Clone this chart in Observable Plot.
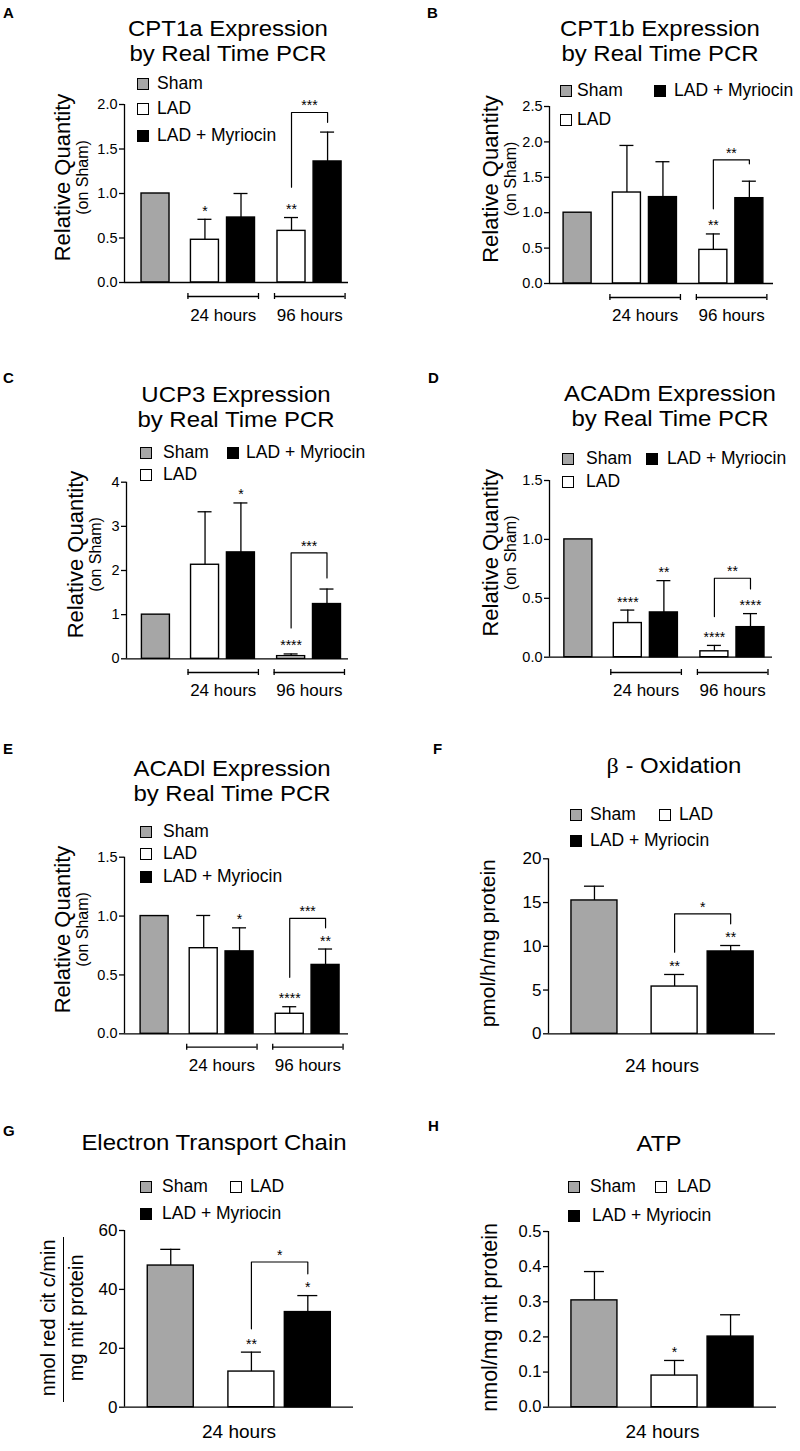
<!DOCTYPE html>
<html><head><meta charset="utf-8">
<script src="https://cdn.jsdelivr.net/npm/d3@7"></script>
<script src="https://cdn.jsdelivr.net/npm/@observablehq/plot@0.6"></script>
<style>
body{margin:0;background:#fff;}
#fig{position:relative;width:800px;height:1451px;background:#fff;font-family:"Liberation Sans",Arial,sans-serif;color:#000;overflow:hidden}
#fig .t{position:absolute;white-space:nowrap;line-height:1;}
#fig .ttl{position:absolute;white-space:nowrap;line-height:25px;text-align:center;font-size:22px;}
#fig svg{position:absolute;overflow:visible;}
#fig .sq{position:absolute;width:12px;height:12px;box-sizing:border-box;border:1.3px solid #000;}
g[aria-label="stars"] text{letter-spacing:1.2px}
</style></head><body><div id="fig"></div>
<script>
// ---------- categories ----------
const conditions = ["Sham", "LAD", "LAD + Myriocin"];
const condition5 = ["Sham", "LAD", "LAD + Myriocin", "LAD", "LAD + Myriocin"];
const time5 = ["", "24 hours", "24 hours", "96 hours", "96 hours"];
const timeLabels = ["24 hours", "96 hours"];
const singleTime = "24 hours";

// ---------- A: CPT1a ----------
const cpt1aMean = [1.00, 0.48, 0.73, 0.58, 1.36];
const cpt1aErr = [null, 0.71, 1.00, 0.73, 1.69];
const cpt1aStars = ["", "*", "", "**", ""];
const cpt1aBracket = {from: 3, to: 4, left: 1.07, top: 1.91, right: 1.80, label: "***"};
const cpt1aTicks = [0, 0.5, 1, 1.5, 2];

// ---------- B: CPT1b ----------
const cpt1bMean = [1.00, 1.285, 1.22, 0.475, 1.205];
const cpt1bErr = [null, 1.95, 1.72, 0.70, 1.445];
const cpt1bStars = ["", "", "", "**", ""];
const cpt1bBracket = {from: 3, to: 4, left: 1.055, top: 1.747, right: 1.69, label: "**"};
const cpt1bTicks = [0, 0.5, 1, 1.5, 2, 2.5];

// ---------- C: UCP3 ----------
const ucp3Mean = [1.00, 2.13, 2.41, 0.06, 1.24];
const ucp3Err = [null, 3.33, 3.53, 0.11, 1.58];
const ucp3Stars = ["", "", "*", "****", ""];
const ucp3Bracket = {from: 3, to: 4, left: 0.70, top: 2.40, right: 1.83, label: "***"};
const ucp3Ticks = [0, 1, 2, 3, 4];

// ---------- D: ACADm ----------
const acadmMean = [1.00, 0.29, 0.38, 0.05, 0.255];
const acadmErr = [null, 0.40, 0.65, 0.10, 0.37];
const acadmStars = ["", "****", "**", "****", "****"];
const acadmBracket = {from: 3, to: 4, left: 0.345, top: 0.67, right: 0.58, label: "**"};
const acadmTicks = [0, 0.5, 1, 1.5];

// ---------- E: ACADl ----------
const acadlMean = [1.00, 0.727, 0.70, 0.17, 0.585];
const acadlErr = [null, 1.005, 0.90, 0.23, 0.72];
const acadlStars = ["", "", "*", "****", "**"];
const acadlBracket = {from: 3, to: 4, left: 0.48, top: 0.98, right: 0.90, label: "***"};
const acadlTicks = [0, 0.5, 1, 1.5];

// ---------- F: beta oxidation ----------
const betaMean = [15.24, 5.4, 9.41];
const betaErr = [16.87, 6.78, 10.09];
const betaStars = ["", "**", "**"];
const betaBracket = {from: 1, to: 2, left: 9.33, top: 13.7, right: 12.57, label: "*"};
const betaTicks = [0, 5, 10, 15, 20];

// ---------- G: electron transport chain ----------
const etcMean = [48.1, 12.1, 32.3];
const etcErr = [53.6, 18.7, 37.9];
const etcStars = ["", "**", "*"];
const etcBracket = {from: 1, to: 2, left: 26.6, top: 49.3, right: 45.3, label: "*"};
const etcTicks = [0, 20, 40, 60];

// ---------- H: ATP ----------
const atpMean = [0.304, 0.09, 0.201];
const atpErr = [0.386, 0.133, 0.263];
const atpStars = ["", "*", ""];
const atpTicks = [0, 0.1, 0.2, 0.3, 0.4, 0.5];

// ---------- styles ----------
const fillOf = {"Sham": "#a6a6a6", "LAD": "#ffffff", "LAD + Myriocin": "#000000"};
const slots5 = [0, 1.37, 2.37, 3.77, 4.77];
const slots3 = [0, 1.43, 2.43];
const FONT = '"Liberation Sans", Arial, sans-serif';
const fig = document.getElementById("fig");

function panel(o) {
  const innerW = o.w - o.mL - o.mR, innerH = o.h - o.mT - o.mB;
  const yMax = o.ticks[o.ticks.length - 1];
  const unit = innerW / (o.xDom[1] - o.xDom[0]);
  const px = p => p / unit;
  const py = p => -p * yMax / innerH;
  const rows = o.mean.map((m, i) => ({cond: o.cond[i], time: o.time ? o.time[i] : singleTime, mean: m, err: o.err[i], star: o.stars[i], x: o.slots[i]}));
  const withErr = rows.filter(d => d.err != null);
  const withStar = rows.filter(d => d.star);
  const marks = [
    Plot.axisY({ticks: o.ticks, tickFormat: o.fmt, tickSize: 5, tickPadding: 2, fontSize: o.tickSize, label: null, strokeWidth: 1.3}),
    Plot.rect(rows, {x1: d => d.x - px(o.barW / 2), x2: d => d.x + px(o.barW / 2), y1: () => 0, y2: "mean", fill: d => fillOf[d.cond], stroke: "#000", strokeWidth: 1.4}),
    Plot.ruleX(withErr, {x: "x", y1: "mean", y2: "err", stroke: "#000", strokeWidth: 1.3}),
    Plot.ruleY(withErr, {y: "err", x1: d => d.x - px(o.cap), x2: d => d.x + px(o.cap), stroke: "#000", strokeWidth: 1.3}),
    Plot.text(withStar, {x: "x", y: d => d.err ?? d.mean, text: "star", dy: -8, fontSize: 14, ariaLabel: "stars"}),
    Plot.ruleX([o.xDom[0]], {x: d => d, y1: () => 0, y2: () => yMax, stroke: "#000", strokeWidth: 1.3}),
    Plot.ruleY([0], {y: d => d, x1: () => o.xDom[0], x2: () => o.xDom[1], stroke: "#000", strokeWidth: 1.3})
  ];
  if (o.bracket) {
    const b = o.bracket, xa = o.slots[b.from], xb = o.slots[b.to];
    const pts = [{x: xa, y: b.left}, {x: xa, y: b.top}, {x: xb, y: b.top}, {x: xb, y: b.right}];
    marks.push(Plot.line(pts, {x: "x", y: "y", stroke: "#000", strokeWidth: 1.2}));
    marks.push(Plot.text([b], {x: () => (xa + xb) / 2, y: "top", text: "label", dy: -6.5, fontSize: 14, ariaLabel: "stars"}));
  }
  if (o.time) {
    const groups = timeLabels.map(t => {
      const xs = rows.filter(d => d.time === t).map(d => d.x);
      return {label: t, x1: d3.min(xs) - px(o.gL), x2: d3.max(xs) + px(o.gR)};
    });
    const ends = groups.flatMap(g => [g.x1, g.x2]);
    marks.push(Plot.ruleY(groups, {y: () => py(o.gLine), x1: "x1", x2: "x2", stroke: "#000", strokeWidth: 1.3}));
    marks.push(Plot.ruleX(ends, {x: d => d, y1: () => py(o.gLine - 3), y2: () => py(o.gLine + 3), stroke: "#000", strokeWidth: 1.3}));
    marks.push(Plot.text(groups, {x: d => (d.x1 + d.x2) / 2, y: () => py(o.gLabel), text: "label", fontSize: o.labelSize}));
  } else {
    marks.push(Plot.text([singleTime], {x: () => (o.xDom[0] + o.xDom[1]) / 2, y: () => py(o.gLabel), text: d => d, fontSize: o.labelSize}));
  }
  o.yTitle.forEach((t, i) => {
    marks.push(Plot.text([t], {frameAnchor: "left", textAnchor: "middle", lineAnchor: "middle", text: d => d, rotate: -90, dx: o.yDx[i], dy: o.yDy, fontSize: o.ySize[i]}));
  });
  const svg = Plot.plot({
    width: o.w, height: o.h,
    marginLeft: o.mL, marginRight: o.mR, marginTop: o.mT, marginBottom: o.mB,
    x: {domain: o.xDom, axis: null},
    y: {domain: [0, yMax]},
    color: {type: "identity"},
    style: {position: "absolute", left: o.left + "px", top: o.top + "px", background: "transparent", overflow: "visible", fontFamily: FONT, color: "#000"},
    marks
  });
  // make sure the tick labels get the intended size
  svg.querySelectorAll('g[aria-label*="axis"] text').forEach(t => { t.style.fontSize = o.tickSize + "px"; });
  svg.querySelectorAll('g[aria-label*="axis"]').forEach(g => { if (/label/.test(g.getAttribute("aria-label"))) g.style.fontSize = o.tickSize + "px"; });
  fig.appendChild(svg);
}

function addText(x, y, s, size, opts = {}) {
  const d = document.createElement("div");
  d.className = "t";
  d.style.left = x + "px"; d.style.top = y + "px"; d.style.fontSize = size + "px";
  d.style.transform = `translate(${opts.start ? "0" : "-50%"},-50%)`;
  if (opts.bold) d.style.fontWeight = "bold";
  if (opts.html) d.innerHTML = s; else d.textContent = s;
  fig.appendChild(d);
}
function title(x, y, html) {
  const d = document.createElement("div");
  d.className = "ttl";
  d.style.left = x + "px"; d.style.top = y + "px";
  d.style.transform = "translate(-50%,-50%) scaleX(1.09)";
  d.innerHTML = html;
  fig.appendChild(d);
}
function legend(items) {
  for (const [ci, sx, tx, y] of items) {
    const s = document.createElement("div");
    s.className = "sq";
    s.style.left = sx + "px"; s.style.top = (y - 6) + "px"; s.style.background = fillOf[conditions[ci]];
    fig.appendChild(s);
    addText(tx, y, conditions[ci], 17.5, {start: true});
  }
}

const rq = ["Relative Quantity", "(on Sham)"];
const base5 = {cond: condition5, time: time5, slots: slots5, barW: 28, cap: 7, gL: 17, gR: 17.5, labelSize: 17, tickSize: 14.5, fmt: ".1f", yTitle: rq, ySize: [22, 16]};
const base3 = {cond: conditions, time: null, slots: slots3, barW: 46, cap: 10, labelSize: 19};

// A
panel({...base5, left: 0, top: 80, w: 400, h: 260, mL: 124, mT: 24, mR: 52, mB: 58, xDom: [-0.86, 5.35],
  mean: cpt1aMean, err: cpt1aErr, stars: cpt1aStars, bracket: cpt1aBracket, ticks: cpt1aTicks,
  gLine: 14, gLabel: 33, yDx: [-62, -42], yDy: -16});
// B
panel({...base5, left: 400, top: 80, w: 400, h: 260, mL: 149, mT: 26, mR: 27, mB: 57, xDom: [-0.78, 5.44],
  mean: cpt1bMean, err: cpt1bErr, stars: cpt1bStars, bracket: cpt1bBracket, ticks: cpt1bTicks,
  gLine: 14, gLabel: 32, yDx: [-59, -39], yDy: -16});
// C
panel({...base5, left: 0, top: 450, w: 400, h: 250, mL: 126, mT: 31.7, mR: 52, mB: 41.7, xDom: [-0.82, 5.37],
  mean: ucp3Mean, err: ucp3Err, stars: ucp3Stars, bracket: ucp3Bracket, ticks: ucp3Ticks, fmt: "d",
  gLine: 13.7, gLabel: 31.7, yDx: [-51, -31], yDy: -16});
// D
panel({...base5, left: 400, top: 450, w: 400, h: 250, mL: 149, mT: 30, mR: 28, mB: 43.3, xDom: [-0.80, 5.38],
  mean: acadmMean, err: acadmErr, stars: acadmStars, bracket: acadmBracket, ticks: acadmTicks,
  gLine: 15.3, gLabel: 33.3, yDx: [-59, -39], yDy: -16});
// E
panel({...base5, left: 0, top: 820, w: 400, h: 260, mL: 124, mT: 36.7, mR: 52, mB: 46.7, xDom: [-0.84, 5.41],
  mean: acadlMean, err: acadlErr, stars: acadlStars, bracket: acadlBracket, ticks: acadlTicks,
  gLine: 13.4, gLabel: 31.7, yDx: [-62, -42], yDy: -16});
// F
panel({...base3, left: 400, top: 820, w: 400, h: 260, mL: 148, mT: 38.3, mR: 25, mB: 46.7, xDom: [-0.82, 3.23],
  mean: betaMean, err: betaErr, stars: betaStars, bracket: betaBracket, ticks: betaTicks, fmt: "d", tickSize: 17,
  gLabel: 31.7, yTitle: ["pmol/h/mg protein"], yDx: [-60], yDy: -3, ySize: [21]});
// G
panel({...base3, left: 0, top: 1190, w: 400, h: 261, mL: 124, mT: 40, mR: 47, mB: 44.3, xDom: [-0.82, 3.24],
  mean: etcMean, err: etcErr, stars: etcStars, bracket: etcBracket, ticks: etcTicks, fmt: "d", tickSize: 17,
  gLabel: 24.6, yTitle: ["nmol red cit c/min", "mg mit protein"], yDx: [-76, -48], yDy: -1, ySize: [20, 20]});
// H
panel({...base3, left: 400, top: 1190, w: 400, h: 261, mL: 148, mT: 41, mR: 24, mB: 44.3, xDom: [-0.82, 3.25],
  mean: atpMean, err: atpErr, stars: atpStars, bracket: null, ticks: atpTicks, fmt: ".1f", tickSize: 16.5,
  gLabel: 24.6, yTitle: ["nmol/mg mit protein"], yDx: [-58], yDy: -2, ySize: [21.5]});

// fraction bar of panel G's axis title
const fb = document.createElement("div");
fb.style.cssText = "position:absolute;left:62.5px;top:1237px;width:1.3px;height:165px;background:#000";
fig.appendChild(fb);

// panel letters
[["A", 3, 12], ["B", 427, 12], ["C", 3, 377], ["D", 428, 377], ["E", 3, 748], ["F", 433, 748], ["G", 3, 1130], ["H", 428, 1125]]
  .forEach(([s, x, y]) => addText(x, y, s, 15, {start: true, bold: true}));

// titles
title(228, 41, "CPT1a Expression<br>by Real Time PCR");
title(660, 40.5, "CPT1b Expression<br>by Real Time PCR");
title(236, 406.5, "UCP3 Expression<br>by Real Time PCR");
title(670, 405.5, "ACADm Expression<br>by Real Time PCR");
title(232, 780.5, "ACADl Expression<br>by Real Time PCR");
title(674, 765, '<span style="font-family:\'Liberation Serif\',serif">β</span> - Oxidation');
title(214, 1142, "Electron Transport Chain");
title(659, 1143, "ATP");

// legends: [condition index, square x, text x, row y]
legend([[0, 137, 157, 84], [1, 137, 157, 109], [2, 137, 157, 136]]);
legend([[0, 560, 577, 91], [2, 654, 674, 91], [1, 560, 577, 120]]);
legend([[0, 140, 163, 453], [2, 227, 246, 453], [1, 140, 163, 475]]);
legend([[0, 562, 586, 459], [2, 646, 667, 459], [1, 562, 586, 482]]);
legend([[0, 140, 163, 832], [1, 140, 163, 854], [2, 140, 163, 877]]);
legend([[0, 570, 590, 815], [1, 659, 679, 815], [2, 570, 590, 841]]);
legend([[0, 140, 162, 1187], [1, 230, 250, 1187], [2, 140, 162, 1214]]);
legend([[0, 568, 590, 1187], [1, 655, 677, 1187], [2, 568, 592, 1216]]);
</script></body></html>
